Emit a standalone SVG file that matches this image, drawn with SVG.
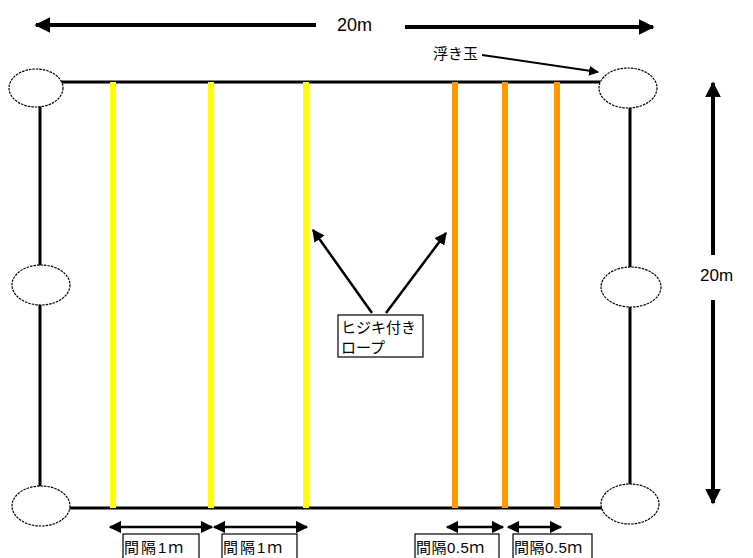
<svg xmlns="http://www.w3.org/2000/svg" width="753" height="558" viewBox="0 0 753 558">
<style>
.float{fill:#fff;stroke:#000;stroke-width:1.2;stroke-dasharray:2.5 1}
.rope{stroke:#000;stroke-width:3;fill:none}
.y{stroke:#FFFF00;stroke-width:6}
.o{stroke:#FF9900;stroke-width:6}
.ar{stroke:#000;fill:none}
.t{font-family:"Liberation Sans","Noto Sans CJK JP",sans-serif;fill:#000}
.box{fill:#fff;stroke:#000;stroke-width:1.2}
</style>
<defs>
<marker id="ah" viewBox="0 0 10 10" refX="9" refY="5" markerWidth="4" markerHeight="4" orient="auto-start-reverse"><path d="M0,0 L10,5 L0,10 z" fill="#000"/></marker>
<marker id="ahs" viewBox="0 0 10 10" refX="9" refY="5" markerWidth="5" markerHeight="5" orient="auto-start-reverse"><path d="M0,0 L10,5 L0,10 z" fill="#000"/></marker>
</defs>
<g id="frame">
<line class="rope" x1="60" y1="82" x2="600" y2="82"/>
<line class="rope" x1="66" y1="508" x2="602" y2="508"/>
<line class="rope" x1="40" y1="104" x2="40" y2="488"/>
<line class="rope" x1="630" y1="106" x2="630" y2="486"/>
</g>
<g id="ropes">
<line class="y" x1="113" y1="82" x2="113" y2="508"/>
<line class="y" x1="211" y1="82" x2="211" y2="508"/>
<line class="y" x1="306" y1="82" x2="306" y2="508"/>
<line class="o" x1="455" y1="82" x2="455" y2="508"/>
<line class="o" x1="505" y1="82" x2="505" y2="508"/>
<line class="o" x1="557" y1="82" x2="557" y2="508"/>
</g>
<g id="floats">
<ellipse id="f1" class="float" cx="36" cy="88" rx="27" ry="19"/>
<ellipse id="f2" class="float" cx="628" cy="88" rx="29" ry="20"/>
<ellipse id="f3" class="float" cx="41" cy="285" rx="29" ry="20"/>
<ellipse id="f4" class="float" cx="631" cy="287" rx="30" ry="20"/>
<ellipse id="f5" class="float" cx="41" cy="506" rx="29" ry="20"/>
<ellipse id="f6" class="float" cx="630" cy="504" rx="29" ry="20"/>
</g>
<g id="connectors">
<line class="ar" stroke-width="4" x1="316" y1="25" x2="36" y2="25" marker-end="url(#ah)"/>
<line class="ar" stroke-width="4" x1="405" y1="27" x2="653" y2="27" marker-end="url(#ah)"/>
<line class="ar" stroke-width="4" x1="713" y1="255" x2="713" y2="83" marker-end="url(#ah)"/>
<line class="ar" stroke-width="4" x1="713" y1="300" x2="713" y2="503" marker-end="url(#ah)"/>
<line class="ar" stroke-width="2" x1="482" y1="55" x2="598" y2="72" marker-end="url(#ahs)"/>
<line class="ar" stroke-width="2.5" x1="372" y1="313" x2="313" y2="230" marker-end="url(#ahs)"/>
<line class="ar" stroke-width="2.5" x1="386" y1="313" x2="446" y2="233" marker-end="url(#ahs)"/>
<line class="ar" stroke-width="2.5" x1="110" y1="527" x2="212" y2="527" marker-start="url(#ahs)" marker-end="url(#ahs)"/>
<line class="ar" stroke-width="2.5" x1="214" y1="527" x2="307" y2="527" marker-start="url(#ahs)" marker-end="url(#ahs)"/>
<line class="ar" stroke-width="2.5" x1="447" y1="527" x2="503" y2="527" marker-start="url(#ahs)" marker-end="url(#ahs)"/>
<line class="ar" stroke-width="2.5" x1="508" y1="527" x2="561" y2="527" marker-start="url(#ahs)" marker-end="url(#ahs)"/>
</g>
<g id="labels">
<text class="t" x="337" y="31" font-size="18">20m</text>
<text class="t" x="700" y="281" font-size="17">20m</text>
<text class="t" x="433" y="59" font-size="15">浮き玉</text>
<g id="hijiki">
<rect class="box" x="338" y="315" width="85" height="42"/>
<text class="t" x="341" y="333" font-size="15">ヒジキ付き</text>
<text class="t" x="341" y="353" font-size="15">ロープ</text>
</g>
<g id="l1"><rect class="box" x="123" y="534" width="76" height="30"/><text class="t" x="124" y="553" font-size="15" letter-spacing="2">間隔1ｍ</text></g>
<g id="l2"><rect class="box" x="222" y="534" width="75" height="30"/><text class="t" x="223" y="553" font-size="15" letter-spacing="2">間隔1ｍ</text></g>
<g id="l3"><rect class="box" x="415" y="534" width="84" height="30"/><text class="t" x="416" y="553" font-size="15" letter-spacing="0.5">間隔0.5ｍ</text></g>
<g id="l4"><rect class="box" x="513" y="534" width="79" height="30"/><text class="t" x="514" y="553" font-size="15" letter-spacing="0.5">間隔0.5ｍ</text></g>
</g>
</svg>
